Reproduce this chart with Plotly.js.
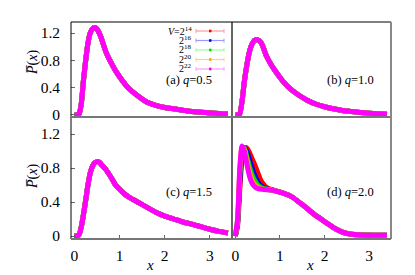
<!DOCTYPE html>
<html><head><meta charset="utf-8">
<script src="https://cdn.plot.ly/plotly-3.0.1.min.js"></script>
<style>html,body{margin:0;padding:0;background:#fff;}#chart{width:415px;height:275px;}</style>
</head><body><div id="chart"></div>
<script>
// ---- data ----
const sizeLabels = ['14', '16', '18', '20', '22'];
const seriesColors = ['#ff0000', '#0000ff', '#00dd00', '#ffa500', '#ff00ff'];
const legendLineColors = ['#ff9a9a', '#9a9aff', '#9aff9a', '#ffd27a', '#ff9aff'];
const panelLabels = ['(a) <i>q</i>=0.5', '(b) <i>q</i>=1.0', '(c) <i>q</i>=1.5', '(d) <i>q</i>=2.0'];
const yTicks = [0, 0.4, 0.8, 1.2];
const yTickText = ['0', '0.4', '0.8', '1.2'];
const xTicks = [0, 1, 2, 3];

const xA = [0.0, 0.05, 0.1, 0.15, 0.2, 0.25, 0.3, 0.35, 0.4, 0.45, 0.5, 0.55, 0.6, 0.7, 0.8, 0.9, 1.0, 1.1, 1.2, 1.4, 1.6, 1.8, 2.0, 2.2, 2.4, 2.6, 2.8, 3.0, 3.2, 3.4];
const yA = [0.0, 0.0, 0.01, 0.15, 0.5, 0.8, 1.05, 1.2, 1.26, 1.28, 1.26, 1.2, 1.12, 0.92, 0.78, 0.66, 0.56, 0.47, 0.39, 0.28, 0.19, 0.14, 0.11, 0.09, 0.07, 0.05, 0.04, 0.03, 0.02, 0.013];

const xB = [0.0, 0.05, 0.1, 0.15, 0.2, 0.25, 0.3, 0.35, 0.4, 0.45, 0.5, 0.55, 0.6, 0.7, 0.8, 0.9, 1.0, 1.1, 1.2, 1.4, 1.6, 1.8, 2.0, 2.2, 2.4, 2.6, 2.8, 3.0, 3.2, 3.4];
const yB = [0.0, 0.0, 0.02, 0.2, 0.48, 0.7, 0.88, 1.0, 1.07, 1.1, 1.1, 1.08, 1.03, 0.86, 0.74, 0.64, 0.55, 0.47, 0.4, 0.3, 0.22, 0.16, 0.12, 0.09, 0.065, 0.05, 0.035, 0.025, 0.018, 0.012];

const xC = [0.0, 0.05, 0.1, 0.15, 0.2, 0.25, 0.3, 0.35, 0.4, 0.45, 0.5, 0.55, 0.6, 0.7, 0.8, 0.9, 1.0, 1.1, 1.2, 1.3, 1.4, 1.6, 1.8, 2.0, 2.2, 2.4, 2.6, 2.8, 3.0, 3.2, 3.4];
const yC = [0.0, 0.0, 0.01, 0.1, 0.25, 0.42, 0.6, 0.74, 0.82, 0.86, 0.875, 0.87, 0.84, 0.78, 0.7, 0.61, 0.55, 0.5, 0.46, 0.43, 0.4, 0.34, 0.28, 0.235, 0.2, 0.165, 0.14, 0.11, 0.08, 0.055, 0.035];

const xD = [0.0, 0.05, 0.1, 0.15, 0.2, 0.25, 0.3, 0.35, 0.4, 0.45, 0.5, 0.55, 0.6, 0.7, 0.8, 0.9, 1.0, 1.1, 1.2, 1.3, 1.4, 1.5, 1.6, 1.7, 1.8, 1.9, 2.0, 2.1, 2.2, 2.3, 2.4, 2.5, 2.6, 2.8, 3.0, 3.2, 3.4];
const yD14 = [0.0, 0.12, 0.55, 0.9, 1.02, 1.04, 1.0, 0.94, 0.88, 0.82, 0.75, 0.68, 0.63, 0.57, 0.548, 0.533, 0.518, 0.5, 0.48, 0.45, 0.41, 0.37, 0.33, 0.285, 0.245, 0.21, 0.17, 0.135, 0.1, 0.07, 0.047, 0.032, 0.022, 0.014, 0.011, 0.01, 0.01];
const yD16 = [0.0, 0.15, 0.65, 0.97, 1.04, 1.0, 0.93, 0.84, 0.76, 0.69, 0.64, 0.6, 0.58, 0.556, 0.545, 0.532, 0.517, 0.5, 0.48, 0.45, 0.41, 0.37, 0.33, 0.283, 0.242, 0.208, 0.17, 0.135, 0.1, 0.07, 0.046, 0.031, 0.021, 0.013, 0.01, 0.01, 0.01];
const yD18 = [0.0, 0.17, 0.72, 1.0, 1.04, 0.95, 0.85, 0.76, 0.69, 0.64, 0.6, 0.58, 0.565, 0.55, 0.542, 0.531, 0.516, 0.5, 0.48, 0.45, 0.41, 0.37, 0.33, 0.282, 0.241, 0.207, 0.17, 0.135, 0.1, 0.07, 0.045, 0.03, 0.02, 0.012, 0.01, 0.01, 0.01];
const yD20 = [0.0, 0.19, 0.77, 1.04, 1.02, 0.91, 0.79, 0.7, 0.63, 0.6, 0.575, 0.562, 0.555, 0.548, 0.541, 0.53, 0.515, 0.5, 0.48, 0.45, 0.41, 0.37, 0.33, 0.281, 0.24, 0.206, 0.17, 0.135, 0.1, 0.07, 0.045, 0.03, 0.02, 0.012, 0.01, 0.01, 0.01];
const yD22 = [0.0, 0.2, 0.8, 1.06, 1.0, 0.87, 0.74, 0.65, 0.6, 0.575, 0.56, 0.553, 0.55, 0.545, 0.54, 0.53, 0.515, 0.5, 0.48, 0.45, 0.41, 0.37, 0.33, 0.28, 0.24, 0.205, 0.17, 0.135, 0.1, 0.07, 0.045, 0.03, 0.02, 0.012, 0.01, 0.01, 0.01];

// ---- geometry helpers ----
const W = 415, H = 275;
const px = v => v / W;
const py = v => 1 - v / H;
const L = 71, M = 232, R = 391, T = 22, MID = 117, B = 239;

const panels = [
  {xs: [xA, xA, xA, xA, xA], ys: [yA, yA, yA, yA, yA], xa: 'x', ya: 'y'},
  {xs: [xB, xB, xB, xB, xB], ys: [yB, yB, yB, yB, yB], xa: 'x2', ya: 'y2'},
  {xs: [xC, xC, xC, xC, xC], ys: [yC, yC, yC, yC, yC], xa: 'x3', ya: 'y3'},
  {xs: [xD, xD, xD, xD, xD], ys: [yD14, yD16, yD18, yD20, yD22], xa: 'x4', ya: 'y4'}
];

const traces = [];
panels.forEach(p => {
  for (let i = 0; i < 5; i++) {
    traces.push({
      x: p.xs[i], y: p.ys[i], xaxis: p.xa, yaxis: p.ya,
      type: 'scatter', mode: 'lines',
      line: {color: seriesColors[i], width: 5, shape: 'spline', smoothing: 0.6},
      showlegend: false, hoverinfo: 'skip'
    });
  }
});

const FAM = '"Liberation Serif", "Times New Roman", Times, serif';
const font = {family: FAM, size: 15.5, color: '#000'};

function xax(dom, labels) {
  return {domain: dom, range: [-0.075, 3.49], showgrid: false, zeroline: false, showline: false,
    ticks: labels ? 'inside' : '', ticklen: 4, tickcolor: '#666', tickwidth: 1,
    tickvals: xTicks, showticklabels: labels, tickfont: font, ticklabelstandoff: 5, fixedrange: true};
}
function yax(dom, range, labels, anchor) {
  return {domain: dom, range: range, showgrid: false, zeroline: false, showline: false,
    ticks: labels ? 'inside' : '', ticklen: 4, tickcolor: '#666', tickwidth: 1,
    tickvals: yTicks, ticktext: yTickText, showticklabels: labels, tickfont: font,
    ticklabelstandoff: 10, anchor: anchor, fixedrange: true};
}

const dxL = [px(L), px(M)], dxR = [px(M), px(R)];
const dyT = [py(MID), py(T)], dyB = [py(B), py(MID)];
const rT = [-0.03, 1.362], rB = [-0.035, 1.4];

const shapes = [
  {type: 'line', xref: 'paper', yref: 'paper', x0: px(L), x1: px(R), y0: py(T), y1: py(T), line: {color: '#000', width: 1}},
  {type: 'line', xref: 'paper', yref: 'paper', x0: px(L), x1: px(L), y0: py(T), y1: py(B), line: {color: '#000', width: 1}},
  {type: 'line', xref: 'paper', yref: 'paper', x0: px(M), x1: px(M), y0: py(T), y1: py(B), line: {color: '#000', width: 1.2}},
  {type: 'line', xref: 'paper', yref: 'paper', x0: px(L), x1: px(R), y0: py(MID), y1: py(MID), line: {color: '#777', width: 2}},
  {type: 'line', xref: 'paper', yref: 'paper', x0: px(R), x1: px(R), y0: py(T), y1: py(B), line: {color: '#888', width: 2}},
  {type: 'line', xref: 'paper', yref: 'paper', x0: px(L), x1: px(R), y0: py(B), y1: py(B), line: {color: '#777', width: 2}}
];

const annotations = [];
// legend (drawn manually: label on the left, sample on the right)
const legRows = [31, 40.5, 50, 59.5, 69];
for (let i = 0; i < 5; i++) {
  const lab = (i === 0 ? '<i>V</i>=2' : '2') + '<sup>' + sizeLabels[i] + '</sup>';
  annotations.push({xref: 'paper', yref: 'paper', x: px(193), y: py(legRows[i] - 0.5), xanchor: 'right', yanchor: 'middle',
    text: lab, showarrow: false, font: {family: FAM, size: 10, color: '#000'}, borderpad: 0});
  shapes.push({type: 'line', xref: 'paper', yref: 'paper', x0: px(196), x1: px(224), y0: py(legRows[i]), y1: py(legRows[i]), line: {color: legendLineColors[i], width: 1.2}});
  shapes.push({type: 'line', xref: 'paper', yref: 'paper', x0: px(196), x1: px(196), y0: py(legRows[i] - 2), y1: py(legRows[i] + 2), line: {color: legendLineColors[i], width: 1}});
  shapes.push({type: 'line', xref: 'paper', yref: 'paper', x0: px(224), x1: px(224), y0: py(legRows[i] - 2), y1: py(legRows[i] + 2), line: {color: legendLineColors[i], width: 1}});
  shapes.push({type: 'rect', xref: 'paper', yref: 'paper', x0: px(209), x1: px(211.5), y0: py(legRows[i] - 1.3), y1: py(legRows[i] + 1.3), line: {width: 0}, fillcolor: seriesColors[i]});
}
// panel labels
const labPos = [[188.5, 80], [350, 80], [188.5, 192], [350, 192]];
labPos.forEach((p, i) => annotations.push({xref: 'paper', yref: 'paper', x: px(p[0]), y: py(p[1]), xanchor: 'center', yanchor: 'middle',
  text: panelLabels[i], showarrow: false, font: {family: FAM, size: 12.5, color: '#000'}}));
// axis titles
[[33, 63], [33, 177]].forEach(p => annotations.push({xref: 'paper', yref: 'paper', x: px(p[0]), y: py(p[1]), textangle: -90,
  xanchor: 'center', yanchor: 'middle', text: '<i>P\u0305</i>(<i>x</i>)', showarrow: false, font: {family: FAM, size: 14, color: '#000'}}));
[[150, 265], [310, 265]].forEach(p => annotations.push({xref: 'paper', yref: 'paper', x: px(p[0]), y: py(p[1]),
  xanchor: 'center', yanchor: 'middle', text: '<i>x</i>', showarrow: false, font: {family: FAM, size: 15, color: '#000'}}));

const layout = {
  width: W, height: H, margin: {l: 0, r: 0, t: 0, b: 0},
  paper_bgcolor: '#fff', plot_bgcolor: 'rgba(0,0,0,0)', font: font, showlegend: false,
  xaxis: Object.assign(xax(dxL, false), {anchor: 'y'}),
  xaxis2: Object.assign(xax(dxR, false), {anchor: 'y2'}),
  xaxis3: Object.assign(xax(dxL, true), {anchor: 'y3'}),
  xaxis4: Object.assign(xax(dxR, true), {anchor: 'y4'}),
  yaxis: yax(dyT, rT, true, 'x'),
  yaxis2: yax(dyT, rT, false, 'x2'),
  yaxis3: yax(dyB, rB, true, 'x3'),
  yaxis4: yax(dyB, rB, false, 'x4'),
  shapes: shapes, annotations: annotations
};

Plotly.newPlot('chart', traces, layout, {staticPlot: true, displayModeBar: false});
</script></body></html>
